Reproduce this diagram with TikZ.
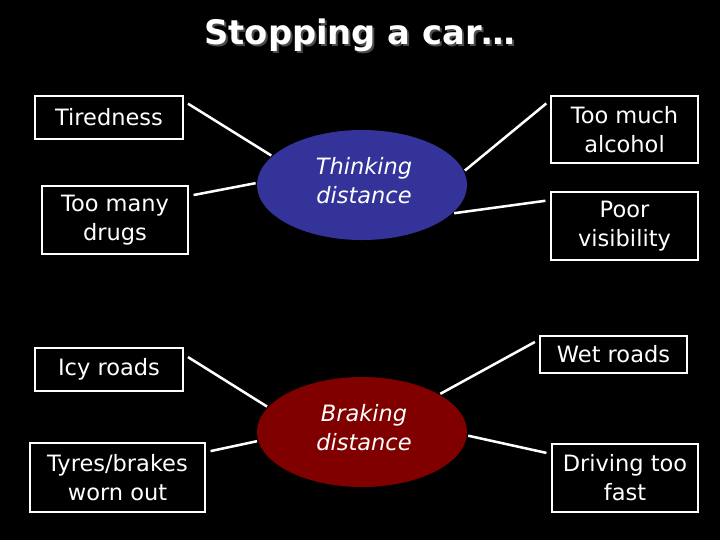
\documentclass[tikz,border=0pt]{standalone}
\usepackage{fontspec}
\setmainfont{DejaVu Sans}
\usetikzlibrary{shapes.geometric}
\definecolor{thinkblue}{RGB}{51,51,153}
\definecolor{brakered}{RGB}{128,0,0}
\begin{document}
\begin{tikzpicture}[x=.025cm,y=-.025cm,line width=2pt,
  every node/.style={text=white,font=\fontsize{16}{20.5}\selectfont,inner sep=0pt},
  cause/.style={draw=white,rectangle,align=center},
  dist/.style={ellipse,fill=#1,minimum width=5.25cm,minimum height=2.75cm},
  distlabel/.style={align=center,font=\fontsize{16}{20.5}\selectfont\itshape},
  link/.style={draw=white,line width=1.8pt,shorten <=3pt}]
  \fill[black] (0,0) rectangle (720,540);
  \path[use as bounding box] (0,0) rectangle (720,540);
  % title
  \node[text=gray!60!black,font=\fontsize{24}{28}\selectfont\bfseries] (titleshadow) at (362,37) {Stopping a car…};
  \node[font=\fontsize{24}{28}\selectfont\bfseries] (title) at (360,35) {Stopping a car…};
  % the two distances
  \node[dist=thinkblue] (think) at (362,185) {};
  \node[distlabel] (thinktext) at (364,181) {Thinking\\distance};
  \node[dist=brakered] (brake) at (362,432) {};
  \node[distlabel] (braketext) at (364,428) {Braking\\distance};
  % causes
  \node[cause,minimum width=3.7cm,minimum height=1.075cm] (tired) at (109,117.5) {Tiredness};
  \node[cause,minimum width=3.65cm,minimum height=1.7cm] (drugs) at (115,220) {Too many\\drugs};
  \node[cause,minimum width=3.675cm,minimum height=1.675cm] (alcohol) at (624.5,129.5) {Too much\\alcohol};
  \node[cause,minimum width=3.675cm,minimum height=1.7cm] (poor) at (624.5,226) {Poor\\visibility};
  \node[cause,minimum width=3.7cm,minimum height=1.075cm] (icy) at (109,369.5) {Icy roads};
  \node[cause,minimum width=4.375cm,minimum height=1.725cm] (tyres) at (117.5,477.5) {Tyres/brakes\\worn out};
  \node[cause,minimum width=3.675cm,minimum height=.925cm] (wet) at (613.5,354.5) {Wet roads};
  \node[cause,minimum width=3.65cm,minimum height=1.7cm] (fast) at (625,478) {Driving too\\fast};
  % links
  \draw[link] (tired.12) -- (think.162);
  \draw[link] (drugs.18) -- (think.179);
  \draw[link] (alcohol.159) -- (think.8);
  \draw[link] (poor.161) -- (think.-17);
  \draw[link] (icy.11) -- (brake.165);
  \draw[link] (tyres.16) -- (brake.185);
  \draw[link] (wet.169) -- (brake.26);
  \draw[link] (fast.162) -- (brake.-2);
\end{tikzpicture}
\end{document}
